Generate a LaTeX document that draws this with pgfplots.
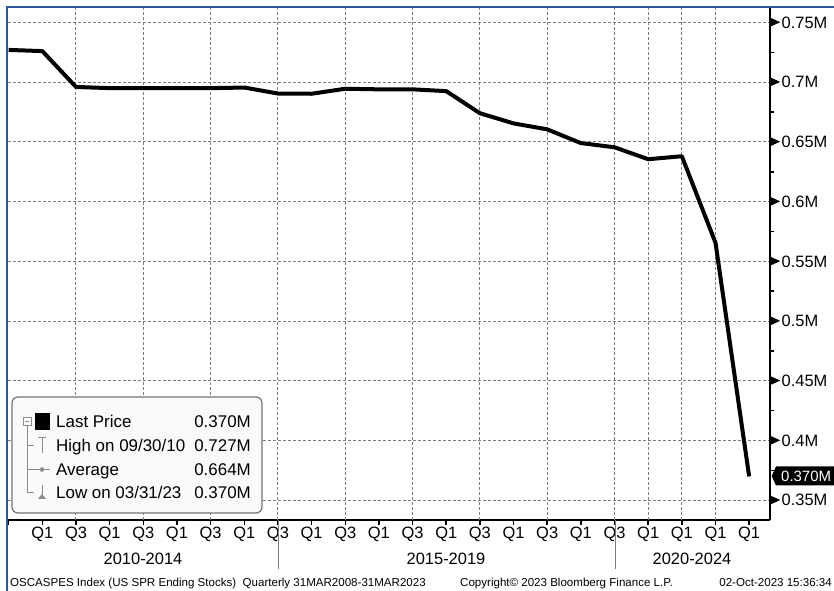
\documentclass[border=0pt]{standalone}
\usepackage{pgfplots}
\pgfplotsset{compat=1.18}
\usepackage{fontspec}
\setmainfont{Liberation Sans}

\definecolor{bbblue}{RGB}{47,84,150}
\definecolor{gridgray}{RGB}{125,125,125}
\definecolor{treegray}{RGB}{140,140,140}

% little arrow that Bloomberg puts in front of each value label
\newcommand{\tri}{\tikz[baseline=-0.36em]\fill[black] (0,-4.5bp)--(10bp,0)--(0,4.5bp)--cycle;}
\newcommand{\ylab}[1]{\tri\hspace{1.5bp}#1}
\newcommand{\lab}{\fontsize{16.5}{16.5}\selectfont}
\newcommand{\leg}{\fontsize{17}{17}\selectfont}
\newcommand{\foot}{\fontsize{11.6}{11.6}\selectfont}

\pgfplotstableread{
x y
0 0.727
1 0.726
2 0.696
3 0.695
4 0.695
5 0.695
6 0.695
7 0.6955
8 0.6905
9 0.6903
10 0.6945
11 0.694
12 0.694
13 0.6925
14 0.674
15 0.6655
16 0.6605
17 0.649
18 0.6455
19 0.6355
20 0.638
21 0.5656
22 0.370
}\spr

\begin{document}
\begin{tikzpicture}[x=1bp,y=1bp]
\begin{axis}[
  at={(0,0)}, anchor=south west,
  scale only axis, width=762bp, height=512bp,
  xmin=-0.02, xmax=22.62, ymin=0.3335, ymax=0.7621,
  axis x line*=bottom, axis y line*=right,
  axis line style={black, line width=1.5bp, -},
  tick align=outside, major tick length=5bp, minor tick length=4bp,
  tick style={black, line width=1.5bp},
  xtick={0,...,22},
  xticklabels={,Q1,Q3,Q1,Q3,Q1,Q3,Q1,Q3,Q1,Q3,Q1,Q3,Q1,Q3,Q1,Q3,Q1,Q3,Q1,Q1,Q1,Q1},
  ytick={0.35,0.4,0.45,0.5,0.55,0.6,0.65,0.7,0.75},
  yticklabels={\ylab{0.35M},\ylab{0.4M},\ylab{0.45M},\ylab{0.5M},\ylab{0.55M},
               \ylab{0.6M},\ylab{0.65M},\ylab{0.7M},\ylab{0.75M}},
  minor ytick={0.375,0.425,0.475,0.525,0.575,0.625,0.675,0.725},
  ymajorgrids=true, xmajorgrids=false,
  extra x ticks={2,4,6,8,10,12,14,16,18,19,20,21},
  extra x tick labels={},
  extra x tick style={grid=major, major tick length=0pt},
  major grid style={gridgray, line width=1bp, dash pattern=on 2.5bp off 2.5bp},
  ticklabel style={font=\lab, text=black},
  xticklabel style={inner sep=0pt, yshift=-2bp},
  yticklabel style={anchor=west, inner sep=0pt, xshift=-5bp},
  clip=false,
]
\addplot[black, line width=4bp, line join=round] table[x=x, y=y] {\spr};
\end{axis}

% Bloomberg frame
\draw[bbblue, line width=2bp] (-2,513) -- (826,513);
\draw[bbblue, line width=2bp] (-1.5,513) -- (-1.5,-71);

% year groups
\draw[gridgray, line width=1bp] (270,0) -- (270,-49);
\draw[gridgray, line width=1bp] (607.7,0) -- (607.7,-49);
\node[font=\lab, anchor=base, inner sep=0] at (135,-45) {2010-2014};
\node[font=\lab, anchor=base, inner sep=0] at (438,-45) {2015-2019};
\node[font=\lab, anchor=base, inner sep=0] at (684,-45) {2020-2024};

% legend
\draw[rounded corners=6bp, draw=black!55, fill=black!2, line width=1.2bp] (4,7) rectangle (254,123);
\draw[treegray, line width=1bp] (19,95) -- (19,27) -- (26,27);
\draw[treegray, line width=1bp] (19,74.5) -- (26,74.5);
\draw[treegray, line width=1bp] (19,50.5) -- (42,50.5);
\draw[treegray, line width=0.8bp, fill=white] (15,95) rectangle (23,103);
\draw[treegray, line width=0.8bp] (17,99) -- (21,99);
\fill[black] (27,90) rectangle (42,107);
\draw[treegray, line width=1bp] (30,82) -- (38,82) (34,82) -- (34,67);
\filldraw[treegray] (34,50.5) circle (2);
\draw[treegray, line width=1bp] (34,35) -- (34,24);
\fill[treegray] (30,21) -- (38,21) -- (34,26) -- cycle;
\node[font=\leg, anchor=base west, inner sep=0] at (48,92) {Last Price};
\node[font=\leg, anchor=base west, inner sep=0] at (48,68.3) {High on 09/30/10};
\node[font=\leg, anchor=base west, inner sep=0] at (48,44.5) {Average};
\node[font=\leg, anchor=base west, inner sep=0] at (48,21.5) {Low on 03/31/23};
\node[font=\leg, anchor=base east, inner sep=0] at (243,92) {0.370M};
\node[font=\leg, anchor=base east, inner sep=0] at (243,68.3) {0.727M};
\node[font=\leg, anchor=base east, inner sep=0] at (243,44.5) {0.664M};
\node[font=\leg, anchor=base east, inner sep=0] at (243,21.5) {0.370M};

% last price tag
\fill[black] (763.7,44) -- (768,53.5) -- (826,53.5) -- (826,34.5) -- (768,34.5) -- cycle;
\node[font=\fontsize{15}{15}\selectfont, text=white, anchor=base west, inner sep=0] at (773,38.6) {0.370M};

% footer
\node[font=\foot, anchor=base west, inner sep=0] at (2,-67) {OSCASPES Index (US SPR Ending Stocks)\ \ Quarterly 31MAR2008-31MAR2023};
\node[font=\foot, anchor=base west, inner sep=0] at (452,-67) {Copyright© 2023 Bloomberg Finance L.P.};
\node[font=\foot, anchor=base east, inner sep=0] at (824,-67) {02-Oct-2023 15:36:34};

\pgfresetboundingbox
\path[use as bounding box] (-8,-71) rectangle (826,520);
\end{tikzpicture}
\end{document}
